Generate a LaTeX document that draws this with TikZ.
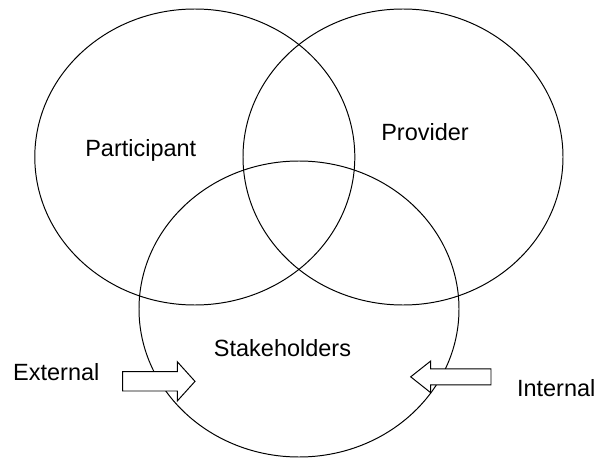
\documentclass[tikz,border=0pt]{standalone}
\usepackage{fontspec}
\setmainfont{Liberation Sans}
\usetikzlibrary{shapes.geometric}
\begin{document}
\begin{tikzpicture}

        \tikzstyle{group} = [ellipse, draw=black, line width=0.7pt, minimum width=8cm, minimum height=7.4cm, inner sep=0pt]
        \tikzstyle{groupname} = [anchor=base, inner sep=0pt, font=\fontsize{16.7}{20}\selectfont]
        \tikzstyle{blockarrow} = [draw=black, line width=0.7pt]
        \useasboundingbox (0,0) rectangle (14.975,11.45);

        \node (participant) [group] at (4.87,7.525) {};
        \node (provider) [group] at (10.075,7.525) {};
        \node (stakeholders) [group] at (7.475,3.725) {};

        % Names
        \node (participantname) [groupname] at (3.52,7.525) {Participant};
        \node (providername) [groupname] at (10.625,7.925) {Provider};
        \node (stakeholdersname) [groupname] at (7.0625,2.5325) {Stakeholders};
        \node (externalname) [groupname] at (1.4075,1.9325) {External};
        \node (internalname) [groupname] at (13.905,1.55) {Internal};

        % Arrows
        \fill [white] (3.0675,1.675) rectangle (4.4325,2.157);
        \draw [blockarrow] (3.0675,1.675) -- (3.0675,2.157) -- (4.4325,2.157) -- (4.4325,2.406) -- (4.875,1.916) -- (4.4325,1.426) -- (4.4325,1.675) -- cycle;
        \fill [white] (10.7675,1.829) rectangle (12.275,2.229);
        \draw [blockarrow] (12.275,1.829) -- (12.275,2.229) -- (10.7675,2.229) -- (10.7675,2.425) -- (10.2675,2.029) -- (10.7675,1.633) -- (10.7675,1.829) -- cycle;

    \end{tikzpicture}
\end{document}
